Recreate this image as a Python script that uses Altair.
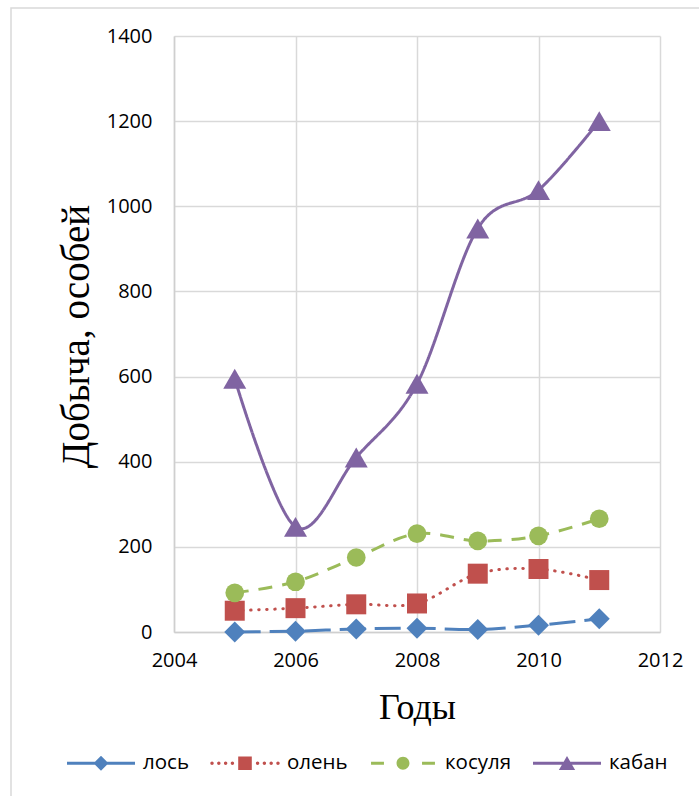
import altair as alt
import pandas as pd

# Game harvest by species, individuals per year
years = [2005, 2006, 2007, 2008, 2009, 2010, 2011]
elk = [0, 2, 7, 9, 6, 16, 31]          # лось
deer = [50, 56, 65, 67, 137, 148, 122]  # олень
roe = [92, 118, 175, 231, 214, 226, 266]  # косуля
boar = [595, 247, 410, 583, 948, 1038, 1200]  # кабан

series_names = ["лось", "олень", "косуля", "кабан"]
series_values = [elk, deer, roe, boar]
series_colors = ["#4F81BD", "#C0504D", "#9BBB59", "#8064A2"]

x_ticks = [2004, 2006, 2008, 2010, 2012]
y_ticks = [0, 200, 400, 600, 800, 1000, 1200, 1400]

rows = []
for name, vals in zip(series_names, series_values):
    for yr, v in zip(years, vals):
        rows.append({"year": yr, "value": v, "series": name})
df = pd.DataFrame(rows)

# line/marker styling per series
styles = {
    "лось": dict(dash=[26, 9], cap="butt", shape="diamond", size=440),
    "олень": dict(dash=[0.5, 7.5], cap="round", shape="square", size=400),
    "косуля": dict(dash=[14, 10], cap="butt", shape="circle", size=350),
    "кабан": dict(dash=[1, 0], cap="butt", shape="triangle-up", size=530),
}

# legend glyphs: line sample with the series marker, unit box -1..1
legend_paths = [
    "M-1,-0.045H1V0.045H-1Z M0,-0.22L0.22,0L0,0.22L-0.22,0Z",
    "M-1.02,0a0.05,0.05 0 1,0 0.1,0a0.05,0.05 0 1,0 -0.1,0"
    "M-0.82,0a0.05,0.05 0 1,0 0.1,0a0.05,0.05 0 1,0 -0.1,0"
    "M-0.62,0a0.05,0.05 0 1,0 0.1,0a0.05,0.05 0 1,0 -0.1,0"
    "M-0.42,0a0.05,0.05 0 1,0 0.1,0a0.05,0.05 0 1,0 -0.1,0"
    "M0.32,0a0.05,0.05 0 1,0 0.1,0a0.05,0.05 0 1,0 -0.1,0"
    "M0.52,0a0.05,0.05 0 1,0 0.1,0a0.05,0.05 0 1,0 -0.1,0"
    "M0.72,0a0.05,0.05 0 1,0 0.1,0a0.05,0.05 0 1,0 -0.1,0"
    "M0.92,0a0.05,0.05 0 1,0 0.1,0a0.05,0.05 0 1,0 -0.1,0"
    "M-0.2,-0.2H0.2V0.2H-0.2Z",
    "M-0.94,-0.045H-0.56V0.045H-0.94Z M0.56,-0.045H0.94V0.045H0.56Z"
    "M-0.19,0a0.19,0.19 0 1,0 0.38,0a0.19,0.19 0 1,0 -0.38,0",
    "M-1,-0.045H1V0.045H-1Z M0,-0.21L0.24,0.2L-0.24,0.2Z",
]

x_enc = alt.X(
    "year:Q",
    scale=alt.Scale(domain=[2004, 2012], nice=False, zero=False),
    axis=alt.Axis(
        values=x_ticks, format="d", title="Годы",
        titleFont="Liberation Serif", titleFontSize=36, titleFontWeight="normal",
        titleColor="black", titleY=86, titleBaseline="alphabetic",
        labelFont="Open Sans", labelFontSize=20, labelColor="black",
        labelPadding=18, ticks=False, grid=True, gridColor="#d9d9d9", gridWidth=1.5,
        domainColor="#cfcfcf", domainWidth=1.5, labelFlush=False,
    ),
)
y_enc = alt.Y(
    "value:Q",
    scale=alt.Scale(domain=[0, 1400], nice=False),
    axis=alt.Axis(
        values=y_ticks, format="d", title="Добыча, особей",
        titleFont="Liberation Serif", titleFontSize=39, titleFontWeight="normal",
        titleColor="black", titleX=-86, titleY=300, titleAngle=-90,
        titleBaseline="alphabetic", titleAlign="center",
        labelFont="Open Sans", labelFontSize=20, labelColor="black",
        labelPadding=22, ticks=False, grid=True, gridColor="#d9d9d9", gridWidth=1.5,
        domainColor="#cfcfcf", domainWidth=1.5,
    ),
)

layers = []

# outer chart frame
frame = alt.Chart(alt.Data(values=[{"k": 1}])).mark_rect(
    filled=False, stroke="#d9d9d9", strokeWidth=1.5
).encode(
    x=alt.value(-163), x2=alt.value(720), y=alt.value(-28), y2=alt.value(800)
)
layers.append(frame)

for name, color in zip(series_names, series_colors):
    st = styles[name]
    base = alt.Chart(df).transform_filter(alt.datum.series == name)
    line = base.mark_line(
        color=color, strokeWidth=3, strokeDash=st["dash"], strokeCap=st["cap"],
        interpolate="cardinal",
    ).encode(x=x_enc, y=y_enc)
    pts = base.mark_point(
        shape=st["shape"], size=st["size"], filled=True, color=color, opacity=1,
        strokeWidth=0,
    ).encode(x=x_enc, y=y_enc)
    layers += [line, pts]

legend_def = alt.Legend(
    orient="none", legendX=-107, legendY=693, direction="horizontal", columns=4,
    labelFont="Open Sans", labelFontSize=20.5, labelColor="black",
    symbolSize=4624, symbolStrokeWidth=0, labelOffset=8, columnPadding=21,
    padding=0,
)
legend_layer = alt.Chart(df).transform_filter("false").mark_point(
    filled=True, opacity=1
).encode(
    shape=alt.Shape("series:N", scale=alt.Scale(domain=series_names, range=legend_paths),
                    legend=legend_def, title=None),
    color=alt.Color("series:N", scale=alt.Scale(domain=series_names, range=series_colors),
                    legend=legend_def, title=None),
)
layers.append(legend_layer)

chart = alt.layer(*layers).properties(
    width=486, height=596,
    padding={"left": 174, "top": 36, "right": 39, "bottom": 164},
    autosize=alt.AutoSizeParams(type="none"),
    background="white",
).configure_view(strokeWidth=0)

chart.save("out.html", embed_options={"renderer": "svg", "actions": False})
